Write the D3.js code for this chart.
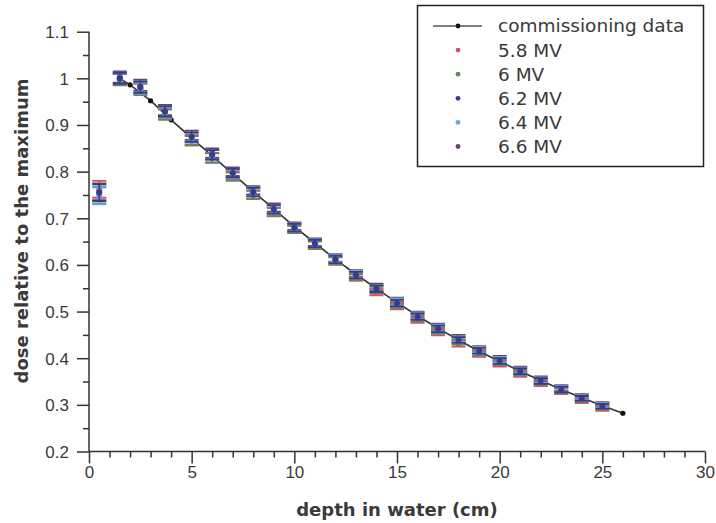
<!DOCTYPE html>
<html>
<head>
<meta charset="utf-8">
<script src="https://cdn.jsdelivr.net/npm/d3@7"></script>
<style>
  html, body { margin: 0; padding: 0; background: #fff; }
  svg { display: block; font-family: "DejaVu Sans", sans-serif; }
</style>
</head>
<body>
<svg id="chart" width="716" height="523"></svg>
<script>
// Commissioning depth-dose curve
const commDepth = [1.5, 2, 3, 4, 5, 6, 7, 8, 9, 10, 11, 12, 13, 14, 15, 16, 17, 18, 19, 20, 21, 22, 23, 24, 25, 26];
const commDose  = [1.000, 0.986, 0.952, 0.911, 0.872, 0.834, 0.795, 0.757, 0.720, 0.682, 0.647, 0.612, 0.580, 0.549,
                   0.519, 0.491, 0.464, 0.439, 0.415, 0.393, 0.372, 0.352, 0.333, 0.315, 0.298, 0.282];

// Simulated depths (cm)
const simDepth = [0.5, 1.5, 2.5, 3.7, 5, 6, 7, 8, 9, 10, 11, 12, 13, 14, 15, 16, 17, 18, 19, 20, 21, 22, 23, 24, 25];

// Relative dose for each beam energy
const dose58 = [0.762, 0.998, 0.979, 0.925, 0.868, 0.830, 0.792, 0.750, 0.714, 0.676, 0.642, 0.608, 0.573, 0.542,
                0.512, 0.483, 0.456, 0.431, 0.409, 0.388, 0.366, 0.346, 0.329, 0.309, 0.292];
const dose6  = [0.750, 0.997, 0.976, 0.922, 0.866, 0.829, 0.789, 0.751, 0.713, 0.677, 0.643, 0.609, 0.575, 0.546,
                0.515, 0.486, 0.459, 0.435, 0.412, 0.391, 0.369, 0.349, 0.331, 0.312, 0.295];
const dose62 = [0.755, 1.000, 0.981, 0.929, 0.874, 0.836, 0.797, 0.756, 0.719, 0.680, 0.646, 0.612, 0.578, 0.549,
                0.518, 0.489, 0.463, 0.439, 0.416, 0.394, 0.372, 0.351, 0.333, 0.314, 0.297];
const dose64 = [0.748, 1.000, 0.979, 0.927, 0.872, 0.836, 0.795, 0.757, 0.718, 0.681, 0.647, 0.614, 0.580, 0.550,
                0.521, 0.491, 0.465, 0.441, 0.418, 0.397, 0.374, 0.353, 0.335, 0.316, 0.299];
const dose66 = [0.757, 1.003, 0.985, 0.932, 0.878, 0.840, 0.800, 0.760, 0.723, 0.683, 0.649, 0.615, 0.582, 0.553,
                0.523, 0.493, 0.467, 0.444, 0.420, 0.399, 0.376, 0.355, 0.336, 0.318, 0.301];
// Statistical uncertainty (absolute) at each depth
const doseErr = [0.018, 0.012, 0.012, 0.011, 0.010, 0.010, 0.009, 0.009, 0.009, 0.008, 0.008, 0.008, 0.007, 0.007,
                 0.007, 0.007, 0.007, 0.006, 0.006, 0.006, 0.006, 0.006, 0.006, 0.005, 0.005];

const seriesNames  = ["5.8 MV", "6 MV", "6.2 MV", "6.4 MV", "6.6 MV"];
const seriesColors = ["#cf5560", "#5f8c55", "#343c8c", "#6fa3dc", "#6b3f6e"];
const seriesDose   = [dose58, dose6, dose62, dose64, dose66];
// Painting order: the central energies end up on top
const drawOrder = [4, 0, 1, 3, 2];

const xTicks = [0, 5, 10, 15, 20, 25, 30];
const yTicks = [0.2, 0.3, 0.4, 0.5, 0.6, 0.7, 0.8, 0.9, 1.0, 1.1];

const svg = d3.select("#chart");
const axisColor = "#333";
const textColor = "#3a3a3a";

const x = d3.scaleLinear().domain([0, 30]).range([89, 705]);
const y = d3.scaleLinear().domain([0.2, 1.1]).range([451.5, 31.7]);

// Axes
const gx = svg.append("g").attr("transform", `translate(0,${y(0.2)})`);
gx.call(d3.axisBottom(x).tickValues(d3.range(0, 31, 1)).tickSize(6).tickFormat(""));
gx.selectAll(".tick").filter(d => xTicks.includes(d)).select("line").attr("y2", 12);
gx.selectAll(".tick text").remove();
gx.selectAll(".tick").filter(d => xTicks.includes(d)).append("text")
  .attr("y", 26).attr("fill", textColor).attr("font-size", 17).attr("text-anchor", "middle")
  .text(d => d3.format("d")(d));

const gy = svg.append("g").attr("transform", `translate(${x(0)},0)`);
gy.call(d3.axisLeft(y).tickValues(d3.range(0.2, 1.1001, 0.05).map(v => +v.toFixed(2))).tickSize(6).tickFormat(""));
const isMajor = d => yTicks.some(t => Math.abs(t - d) < 1e-6);
gy.selectAll(".tick").filter(isMajor).select("line").attr("x2", -12);
gy.selectAll(".tick").filter(isMajor).append("text")
  .attr("x", -20).attr("dy", "0.35em").attr("fill", textColor).attr("font-size", 17).attr("text-anchor", "end")
  .text(d => d3.format("~g")(+d.toFixed(1)));

svg.selectAll(".domain").attr("stroke", axisColor).attr("stroke-width", 1.5);
svg.selectAll(".tick line").attr("stroke", axisColor).attr("stroke-width", 1.5);
gx.select(".domain").attr("d", `M${x(0)},0H${x(30)}`);
gy.select(".domain").attr("d", `M0,${y(0.2)}V${y(1.1)}`);

// Axis titles
svg.append("text").attr("x", 397).attr("y", 516).attr("text-anchor", "middle")
  .attr("font-size", 18).attr("font-weight", "bold").attr("fill", textColor)
  .text("depth in water (cm)");
svg.append("text").attr("transform", "translate(28,231) rotate(-90)").attr("text-anchor", "middle")
  .attr("font-size", 18).attr("font-weight", "bold").attr("fill", textColor)
  .text("dose relative to the maximum");

// Commissioning curve
const line = d3.line().x(d => x(d[0])).y(d => y(d[1]));
const comm = commDepth.map((d, i) => [d, commDose[i]]);
svg.append("path").datum(comm).attr("d", line).attr("fill", "none")
  .attr("stroke", "#333").attr("stroke-width", 1.6);
svg.append("g").selectAll("circle").data(comm).join("circle")
  .attr("cx", d => x(d[0])).attr("cy", d => y(d[1])).attr("r", 2.6).attr("fill", "#111");

// Simulated points with error bars
const capHalf = 7;
drawOrder.forEach(s => {
  const vals = seriesDose[s];
  const col = seriesColors[s];
  const g = svg.append("g");
  const pts = simDepth.map((d, i) => ({ d, v: vals[i], e: doseErr[i] }));
  g.selectAll("path.err").data(pts).join("path").attr("class", "err")
    .attr("d", p => {
      const cx = x(p.d), y0 = y(p.v - p.e), y1 = y(p.v + p.e);
      return `M${cx},${y0}V${y1}M${cx - capHalf},${y0}H${cx + capHalf}M${cx - capHalf},${y1}H${cx + capHalf}`;
    })
    .attr("stroke", col).attr("stroke-width", 1.8).attr("fill", "none");
  g.selectAll("circle").data(pts).join("circle")
    .attr("cx", p => x(p.d)).attr("cy", p => y(p.v)).attr("r", 3).attr("fill", col);
});

// Legend
const lg = svg.append("g");
lg.append("rect").attr("x", 417.5).attr("y", 5.5).attr("width", 286).attr("height", 161)
  .attr("fill", "#fff").attr("stroke", "#222").attr("stroke-width", 1.5);
const rowY = i => 26 + i * 24.1;
lg.append("line").attr("x1", 433).attr("x2", 482).attr("y1", rowY(0)).attr("y2", rowY(0))
  .attr("stroke", "#555").attr("stroke-width", 1.6);
lg.append("circle").attr("cx", 458).attr("cy", rowY(0)).attr("r", 2.4).attr("fill", "#111");
lg.append("text").attr("x", 498).attr("y", rowY(0)).attr("dy", "0.35em")
  .attr("font-size", 18.5).attr("fill", textColor).text("commissioning data");
seriesNames.forEach((name, i) => {
  lg.append("circle").attr("cx", 458).attr("cy", rowY(i + 1)).attr("r", 2.4).attr("fill", seriesColors[i]);
  lg.append("text").attr("x", 498).attr("y", rowY(i + 1)).attr("dy", "0.35em")
    .attr("font-size", 18.5).attr("fill", textColor).text(name);
});
</script>
</body>
</html>
